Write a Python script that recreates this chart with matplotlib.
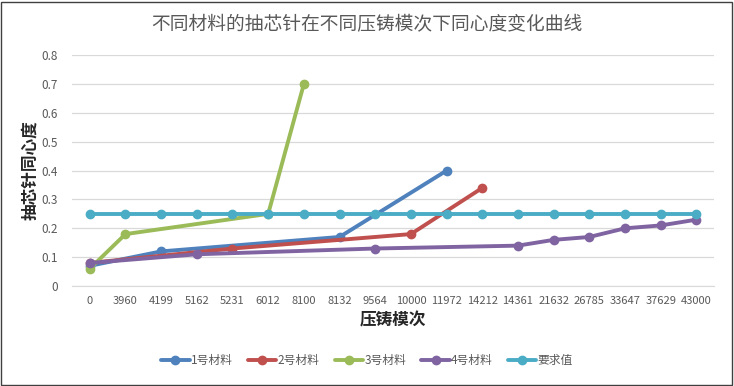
import numpy as np
import matplotlib.pyplot as plt

plt.rcParams['font.family'] = ['Noto Sans CJK SC', 'DejaVu Sans']

cycles = ['0', '3960', '4199', '5162', '5231', '6012', '8100', '8132', '9564',
          '10000', '11972', '14212', '14361', '21632', '26785', '33647', '37629', '43000']
nan = np.nan
mat1 = [0.07, nan, 0.12, nan, nan, nan, nan, 0.17, nan, nan, 0.40,
        nan, nan, nan, nan, nan, nan, nan]
mat2 = [0.08, nan, nan, nan, 0.13, nan, nan, nan, nan, 0.18, nan,
        0.34, nan, nan, nan, nan, nan, nan]
mat3 = [0.06, 0.18, nan, nan, nan, 0.25, 0.70, nan, nan, nan, nan,
        nan, nan, nan, nan, nan, nan, nan]
mat4 = [0.08, nan, nan, 0.11, nan, nan, nan, nan, 0.13, nan, nan,
        nan, 0.14, 0.16, 0.17, 0.20, 0.21, 0.23]
req = [0.25] * len(cycles)

series = [('1号材料', mat1, '#4F81BD'),
          ('2号材料', mat2, '#C0504D'),
          ('3号材料', mat3, '#9BBB59'),
          ('4号材料', mat4, '#8064A2'),
          ('要求值', req, '#4BACC6')]

fig = plt.figure(figsize=(7.34, 3.86), dpi=100)
ax = fig.add_axes([0.098, 0.259, 0.875, 0.598])

x = np.arange(len(cycles))
for name, vals, col in series:
    v = np.array(vals, dtype=float)
    m = ~np.isnan(v)
    ax.plot(x[m], v[m], color=col, lw=2.8, marker='o', ms=6, label=name,
            solid_capstyle='round')

ax.set_xlim(-0.5, len(cycles) - 0.5)
ax.set_ylim(0, 0.8)
ax.set_yticks(np.arange(0, 0.81, 0.1))
ax.set_yticklabels(['0'] + ['%.1f' % t for t in np.arange(0.1, 0.81, 0.1)])
ax.set_xticks(x)
ax.set_xticklabels(cycles)
ax.tick_params(axis='both', length=0, labelsize=8, colors='#595959')
ax.tick_params(axis='y', labelsize=8.5, pad=10)
ax.tick_params(axis='x', pad=7)
ax.grid(axis='y', color='#D9D9D9', lw=0.9)
ax.set_axisbelow(True)
for s in ['top', 'right', 'left']:
    ax.spines[s].set_visible(False)
ax.spines['bottom'].set_color('#D9D9D9')

ax.set_xlabel('压铸模次', fontsize=12, color='#262626', fontweight='bold', labelpad=4)
ax.set_ylabel('抽芯针同心度', fontsize=12, color='#262626', fontweight='bold')
ax.yaxis.set_label_coords(-0.051, 0.5)
fig.text(0.5, 0.935, '不同材料的抽芯针在不同压铸模次下同心度变化曲线',
         ha='center', va='center', fontsize=13.5, color='#595959')

fig.legend(loc='center', bbox_to_anchor=(0.5, 0.067), ncol=5, frameon=False,
           fontsize=8.5, handlelength=2.4, columnspacing=1.3, handletextpad=0.1,
           labelcolor='#595959')

fig.patches.append(plt.Rectangle((0.002, 0.003), 0.995, 0.993, transform=fig.transFigure,
                                 fill=False, edgecolor='#404040', lw=1))

fig.savefig('out.png', dpi=100)
